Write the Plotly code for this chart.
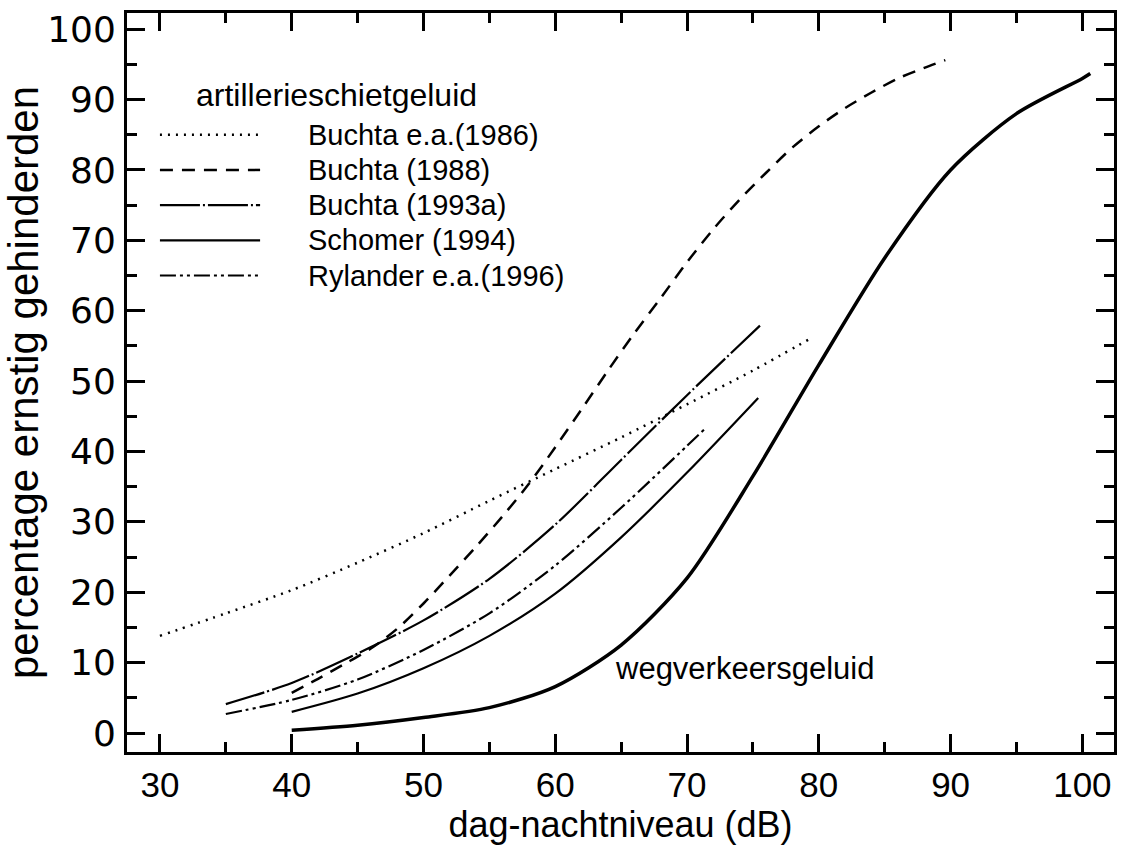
import plotly.graph_objects as go

# ---------------- data ----------------
B86_X = [30, 35, 40, 45, 50, 55, 60, 65, 70, 75, 79.6]
B86_Y = [13.8, 17.0, 20.3, 24.2, 28.4, 33.0, 37.5, 42.0, 46.7, 51.5, 56.3]

B88_X = [40, 42, 44, 46, 48, 50, 52, 54, 56, 58, 60, 62, 64, 66, 68, 70,
         72, 74, 76, 78, 80, 82, 84, 86, 88, 89.6]
B88_Y = [5.7, 7.7, 9.8, 12.0, 14.8, 18.4, 22.4, 26.5, 30.8, 35.4, 40.6, 46.0,
         51.5, 56.8, 61.8, 66.9, 71.6, 75.8, 79.6, 83.2, 86.2, 88.8, 91.0,
         93.0, 94.5, 95.6]

B93_X = [35, 40, 45, 50, 55, 60, 65, 70, 75.6]
B93_Y = [4.1, 7.1, 11.3, 16.0, 21.9, 29.6, 38.8, 48.0, 58.0]

SCH_X = [40, 45, 50, 55, 60, 65, 70, 75.4]
SCH_Y = [3.0, 5.6, 9.2, 13.8, 19.8, 27.8, 37.0, 47.6]

RYL_X = [35, 40, 45, 50, 55, 60, 65, 70, 71.4]
RYL_Y = [2.7, 4.7, 7.6, 11.8, 17.0, 23.8, 32.0, 40.8, 43.3]

ROAD_X = [40, 45, 50, 55, 60, 65, 70, 75, 80, 85, 90, 95, 100, 100.6]
ROAD_Y = [0.4, 1.1, 2.2, 3.6, 6.6, 12.5, 22.0, 36.5, 52.3, 67.5, 80.0,
          88.0, 93.0, 93.7]

SERIES_NAMES = ["Buchta e.a.(1986)", "Buchta (1988)", "Buchta (1993a)",
                "Schomer (1994)", "Rylander e.a.(1996)"]
LEGEND_TITLE = "artillerieschietgeluid"
ROAD_LABEL = "wegverkeersgeluid"
X_TITLE = "dag-nachtniveau (dB)"
Y_TITLE = "percentage ernstig gehinderden"
X_TICKS = [30, 40, 50, 60, 70, 80, 90, 100]
Y_TICKS = [0, 10, 20, 30, 40, 50, 60, 70, 80, 90, 100]

# ---------------- styles ----------------
DASHES = ["2px,6px", "13px,9px", "40px,3px,2px,3px", "solid",
          "16px,4px,3px,4px,3px,4px"]
WIDTHS = [2.5, 2.5, 2.2, 2.2, 2.2]
TEXT_FONT = "Liberation Sans, Arial, sans-serif"
X_RANGE = [27.5, 102.4]
Y_RANGE = [-2.7, 102.3]

fig = go.Figure()
artillery = [(B86_X, B86_Y), (B88_X, B88_Y), (B93_X, B93_Y),
             (SCH_X, SCH_Y), (RYL_X, RYL_Y)]
for (xs, ys), name, dash, w in zip(artillery, SERIES_NAMES, DASHES, WIDTHS):
    fig.add_trace(go.Scatter(x=xs, y=ys, mode="lines", name=name,
                             line=dict(color="black", width=w, dash=dash,
                                       shape="spline", smoothing=0.8),
                             showlegend=False))
fig.add_trace(go.Scatter(x=ROAD_X, y=ROAD_Y, mode="lines", name=ROAD_LABEL,
                         line=dict(color="black", width=3.5, shape="spline",
                                   smoothing=0.8),
                         showlegend=False))

# ---------------- hand-made legend (layout decorations) ----------------
LEG_X0, LEG_X1, LEG_TEXT_X = 30, 37.6, 41.1
LEG_TOP, LEG_STEP = 85, 5
shapes = []
annotations = []
for i, (name, dash, w) in enumerate(zip(SERIES_NAMES, DASHES, WIDTHS)):
    yv = LEG_TOP - i * LEG_STEP
    shapes.append(dict(type="line", xref="x", yref="y", x0=LEG_X0, x1=LEG_X1,
                       y0=yv, y1=yv, line=dict(color="black", width=w, dash=dash)))
    annotations.append(dict(x=LEG_TEXT_X, y=yv, xref="x", yref="y", text=name,
                            showarrow=False, xanchor="left", yanchor="middle",
                            font=dict(family=TEXT_FONT, size=29, color="black")))
annotations.append(dict(x=32.6, y=90.6, xref="x", yref="y", text=LEGEND_TITLE,
                        showarrow=False, xanchor="left", yanchor="middle",
                        font=dict(family=TEXT_FONT, size=32, color="black")))
annotations.append(dict(x=64.4, y=9.2, xref="x", yref="y", text=ROAD_LABEL,
                        showarrow=False, xanchor="left", yanchor="middle",
                        font=dict(family=TEXT_FONT, size=31, color="black")))

frame = dict(showline=True, linecolor="black", linewidth=2.8,
             mirror="allticks", ticks="inside", tickwidth=2.5,
             tickcolor="black", showgrid=False, zeroline=False)

fig.update_layout(
    width=1122, height=845, autosize=False,
    margin=dict(l=127, r=5, t=13, b=93),
    paper_bgcolor="white", plot_bgcolor="white",
    shapes=shapes, annotations=annotations,
    xaxis=dict(range=X_RANGE, tickvals=X_TICKS, ticklen=18,
               minor=dict(ticks="inside", dtick=5, tick0=30, ticklen=10,
                          tickwidth=2.5, tickcolor="black"),
               tickfont=dict(family=TEXT_FONT, size=35, color="black"),
               ticklabelstandoff=0,
               title=dict(text=X_TITLE, standoff=0,
                          font=dict(family=TEXT_FONT, size=36, color="black")),
               **frame),
    yaxis=dict(range=Y_RANGE, tickvals=Y_TICKS, ticklen=18,
               minor=dict(ticks="inside", dtick=5, tick0=0, ticklen=10,
                          tickwidth=2.5, tickcolor="black"),
               tickfont=dict(family="DejaVu Sans, sans-serif", size=36,
                             color="black"),
               ticklabelstandoff=1,
               title=dict(text=Y_TITLE, standoff=2,
                          font=dict(family=TEXT_FONT, size=42, color="black")),
               **frame),
)

fig.write_html("out.html",
               config={"displayModeBar": False},
               post_script="document.body.style.margin='0';"
                           "document.body.style.overflow='hidden';")
